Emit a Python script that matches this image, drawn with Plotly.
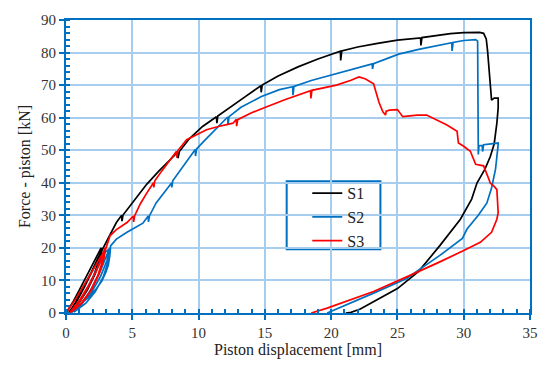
import plotly.graph_objects as go

# ---- data ----
series_names = ["S1", "S2", "S3"]

s1_x = [0, 0.5, 1.0, 1.5, 2.0, 2.4, 2.65,
        2.5, 2.1, 1.5, 0.8, 0.2,
        0.8, 1.4, 2.0, 2.5, 2.75,
        2.6, 2.2, 1.6, 0.9, 0.25,
        0.7, 1.3, 1.9, 2.4, 2.8, 2.95,
        3.3, 3.8, 4.2, 4.22, 4.3, 5.0, 6.1, 7.0, 8.4, 8.45, 8.55,
        9.3, 10.3, 11.35, 11.38, 11.45, 12.5, 13.5, 14.7, 14.72, 14.8,
        16.0, 17.5, 19.0, 20.7, 20.72, 20.8, 22.0, 23.5, 25.0, 26.75, 26.77, 26.85,
        28.0, 29.0, 30.0, 31.2, 31.5, 31.7, 31.8, 31.9, 32.0, 32.05, 32.1, 32.3, 32.6,
        32.6, 32.5, 32.3, 32.0, 31.6, 31.0, 30.6, 29.75, 28.2, 26.6, 25.0, 23.3,
        22.2, 21.5, 21.1]
s1_y = [0, 3.2, 7.0, 10.8, 14.6, 17.8, 20,
        16.5, 11.5, 6.5, 2.2, 0.1,
        3.5, 8.0, 12.8, 17.2, 20,
        16.8, 12.0, 7.0, 2.6, 0.2,
        3.2, 7.8, 12.5, 16.8, 20, 21.5,
        24.3, 27.8, 30, 28.2, 30.1, 33.8, 39.6, 43.6, 49.3, 47.6, 49.6,
        53.5, 57.3, 60.3, 58.3, 60.5, 63.4, 66.4, 69.8, 67.8, 70.0,
        72.8, 75.6, 78.0, 80.4, 77.6, 80.5, 81.7, 82.8, 83.8, 84.5, 82.2, 84.6,
        85.3, 85.8, 86.1, 86.2, 85.9, 84.2, 80.5, 75.0, 70.4, 66.0, 65.4, 66.0, 66.0,
        63.0, 58.3, 52.0, 48.0, 44.2, 39.9, 35.0, 28.8, 20.7, 12.8, 7.5, 3.6,
        1.2, 0.2, 0]

s2_x = [0.3, 1.0, 1.7, 2.3, 2.7, 3.0, 3.2, 3.3, 3.35,
        3.2, 2.8, 2.2, 1.5, 0.6,
        1.3, 2.0, 2.6, 3.0, 3.3,
        3.1, 2.6, 1.9, 1.1, 0.45,
        1.1, 1.8, 2.4, 2.9, 3.3, 3.33, 3.36,
        3.8, 4.6, 5.3, 5.8, 6.2, 6.22, 6.3, 6.8, 7.96, 7.98, 8.05,
        9.0, 9.75, 9.77, 9.85, 10.5, 11.3, 12.2, 12.22, 12.3, 13.2, 14.7, 16.1,
        17.1, 17.12, 17.2, 18.5, 19.9, 21.5, 23.1, 23.12, 23.2, 24.5, 25.1, 26.6, 28.0,
        29.1, 29.12, 29.2, 30.0, 30.9, 31.05, 31.1, 31.15, 31.4, 31.42, 31.5, 32.3, 32.6,
        32.6, 32.5, 32.4, 32.1, 31.75, 31.1, 30.25, 29.9, 28.2, 26.1, 25.7, 23.2, 19.7]
s2_y = [0, 2.5, 4.8, 7.5, 9.8, 12.5, 14.8, 17.5, 19.7,
        16.0, 11.0, 6.5, 3.0, 0.3,
        3.5, 8.0, 13.0, 17.0, 20,
        16.2, 11.2, 6.2, 2.3, 0.2,
        4.0, 9.0, 14.0, 18.5, 19.8, 18.6, 20.6,
        22.7, 24.8, 26.3, 27.6, 29.8, 28.0, 29.9, 33.8, 39.9, 38.6, 40.6,
        46.0, 50.2, 48.2, 50.4, 53.2, 56.6, 60.2, 57.8, 60.3, 63.2, 66.4, 68.6,
        69.5, 66.9, 69.6, 71.4, 72.9, 74.8, 76.5, 75.0, 76.6, 78.6, 79.5, 81.0, 82.2,
        83.0, 80.5, 83.1, 83.7, 84.0, 83.5, 48.7, 51.4, 51.5, 49.6, 51.7, 52.2, 52.2,
        51.7, 48.0, 44.2, 38.4, 33.8, 30.0, 25.8, 22.9, 17.7, 11.8, 10.6, 6.1, 0]

s3_x = [0, 0.6, 1.2, 1.8, 2.4, 2.8, 2.95,
        2.8, 2.4, 1.8, 1.0, 0.3,
        1.0, 1.7, 2.3, 2.8, 3.0,
        2.85, 2.5, 1.9, 1.2, 0.4,
        1.1, 1.8, 2.4, 2.9, 3.1,
        3.33, 3.8, 4.6, 5.08, 5.1, 5.18, 5.6, 6.1, 6.6, 6.62, 6.7, 7.2, 8.34, 8.36, 8.44,
        9.1, 10.0, 10.6, 11.5, 12.6, 12.85, 12.87, 12.95, 14.0, 15.1, 16.5, 18.45, 18.47, 18.55,
        20.4, 21.5, 22.1, 22.6, 23.2, 23.6, 23.9, 24.1, 24.15, 24.4, 24.9, 25.0, 25.4,
        26.5, 27.2, 28.0, 28.7, 29.5, 29.6, 30.0, 30.5, 30.9, 31.5, 31.9, 32.0, 32.3, 32.5,
        32.6, 32.5, 32.1, 31.25, 30.0, 28.2, 25.7, 23.2, 19.7, 18.5]
s3_y = [0, 3.5, 7.5, 11.5, 15.5, 18.5, 20,
        16.5, 11.5, 6.5, 2.3, 0.2,
        3.8, 8.5, 13.0, 17.5, 20,
        16.5, 12.0, 7.0, 3.0, 0.3,
        4.0, 9.0, 14.0, 18.5, 21.0,
        23.8, 25.6, 27.8, 29.8, 28.0, 29.9, 33.5, 36.9, 40.0, 38.6, 40.6, 43.5, 49.7, 47.7, 49.9,
        53.2, 55.0, 56.3, 57.3, 58.3, 59.5, 57.4, 59.4, 61.5, 63.3, 65.5, 68.3, 65.9, 68.4,
        70.0, 71.5, 72.5, 71.9, 70.4, 64.8, 61.8, 60.8, 62.0, 62.3, 62.3, 62.5, 60.3,
        60.8, 60.8, 59.3, 57.8, 55.8, 52.2, 51.2, 49.7, 45.7, 45.2, 41.1, 39.9, 38.9, 37.9,
        30.8, 28.8, 24.8, 21.7, 19.2, 15.7, 11.1, 6.6, 1.5, 0]

series_x = [s1_x, s2_x, s3_x]
series_y = [s1_y, s2_y, s3_y]
series_colors = ["#000000", "#0070C0", "#FF0000"]

x_title = "Piston displacement [mm]"
y_title = "Force - piston [kN]"

# ---- figure ----
AXIS = "#0070C0"
GRID = "#A7CDEE"
FONT = "Liberation Serif, DejaVu Serif, serif"

fig = go.Figure()
for name, xs, ys, col in zip(series_names, series_x, series_y, series_colors):
    fig.add_trace(go.Scatter(x=xs, y=ys, mode="lines", name=name,
                             line=dict(color=col, width=1.7)))

axis_common = dict(
    showgrid=True, gridcolor=GRID, gridwidth=1.5,
    showline=True, linecolor=AXIS, linewidth=2, mirror=True,
    ticks="outside", ticklen=5, tickcolor=AXIS, tickwidth=2,
    zeroline=False,
    tickfont=dict(family=FONT, size=15, color="#333333"),
)

fig.update_xaxes(range=[0, 35], tick0=0, dtick=5,
                 minor=dict(dtick=1, ticks="inside", ticklen=4, tickcolor=AXIS,
                            tickwidth=1.5, showgrid=False),
                 title=dict(text=x_title, font=dict(family=FONT, size=16, color="#222222"),
                            standoff=4),
                 **axis_common)
fig.update_yaxes(range=[0, 90], tick0=0, dtick=10,
                 minor=dict(dtick=2, ticks="inside", ticklen=4, tickcolor=AXIS,
                            tickwidth=1.5, showgrid=False),
                 title=dict(text=y_title, font=dict(family=FONT, size=16, color="#222222"),
                            standoff=6),
                 **axis_common)

fig.add_shape(type="rect", xref="paper", yref="paper",
              x0=0.4756, x1=0.6776, y0=0.2176, y1=0.4496,
              line=dict(color=AXIS, width=2), fillcolor="white", layer="below")

fig.update_layout(
    width=550, height=368,
    margin=dict(l=66, r=19, t=18, b=52),
    paper_bgcolor="white", plot_bgcolor="white",
    showlegend=True,
    legend=dict(x=0.52, y=0.467, xanchor="left", yanchor="top",
                bgcolor="rgba(0,0,0,0)", borderwidth=0,
                font=dict(family=FONT, size=16, color="#222222"),
                tracegroupgap=0),
)

fig.write_html("out.html", config={"displayModeBar": False},
               post_script="document.body.style.margin='0';")
